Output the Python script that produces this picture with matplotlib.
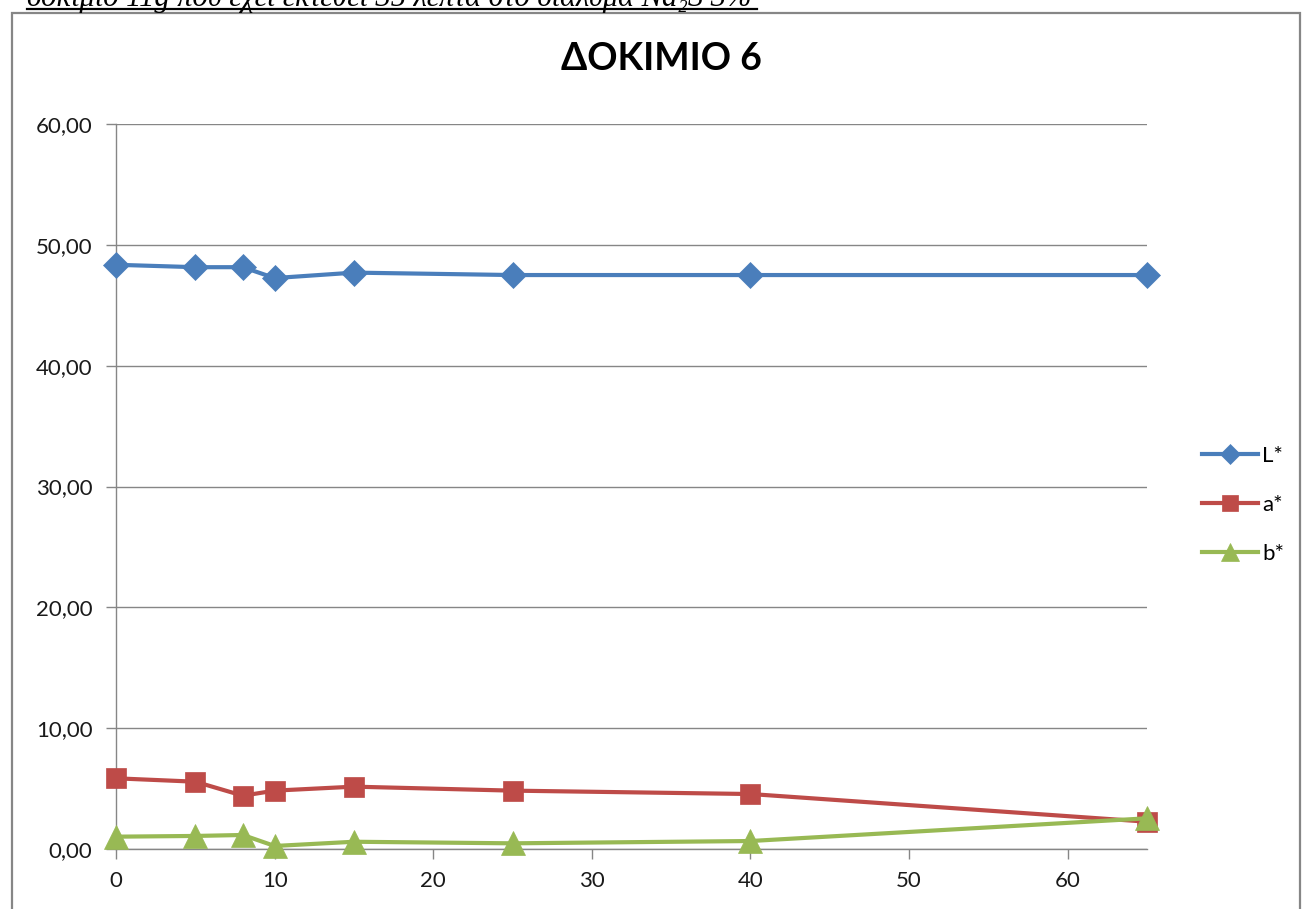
import matplotlib
matplotlib.use("Agg")
import matplotlib.pyplot as plt
from matplotlib.patches import Rectangle
from matplotlib.lines import Line2D

# Immersion time (minutes) and CIELAB colour coordinates
time_min = [0, 5, 8, 10, 15, 25, 40, 65]
L_star = [48.35, 48.15, 48.15, 47.25, 47.70, 47.50, 47.50, 47.50]
a_star = [5.85, 5.57, 4.41, 4.83, 5.16, 4.83, 4.55, 2.26]
b_star = [1.02, 1.08, 1.16, 0.25, 0.60, 0.47, 0.66, 2.54]

series_names = ["L*", "a*", "b*"]
x_ticks = [0, 10, 20, 30, 40, 50, 60]
y_ticks = [0, 10, 20, 30, 40, 50, 60]
title = "ΔΟΚΙΜΙΟ 6"
caption = "δοκίμιο 11g που έχει εκτεθεί 35 λεπτά στο διάλυμα Na\u2082S 3%"

W, H = 1305, 909
fig = plt.figure(figsize=(W / 100, H / 100), dpi=100)
fig.patch.set_facecolor("white")

def fx(px):
    return px / W

def fy(py):
    return 1 - py / H

# Caption line above the chart (partly clipped by the page top)
fig.text(fx(27), fy(6), caption, fontsize=22, family="Liberation Serif",
         style="italic", ha="left", va="baseline", color="black")
fig.add_artist(Line2D([fx(27), fx(757)], [fy(9), fy(9)], color="black", lw=1.6,
                      transform=fig.transFigure))

# Chart frame
fig.add_artist(Rectangle((fx(12), fy(925)), fx(1300) - fx(12), fy(13) - fy(925),
                         transform=fig.transFigure, fill=False,
                         edgecolor="#868686", lw=1.6))

left, right, top, bottom = 116, 1147, 124, 849
ax = fig.add_axes([fx(left), fy(bottom), fx(right) - fx(left), fy(top) - fy(bottom)])

colors = ["#4A7EBB", "#BE4B48", "#98B954"]
markers = ["D", "s", "^"]
msizes = [13, 15, 17]
for vals, name, c, m, ms in zip([L_star, a_star, b_star], series_names, colors, markers, msizes):
    ax.plot(time_min, vals, color=c, lw=3, marker=m, markersize=ms,
            markeredgecolor=c, markeredgewidth=0.5, label=name, clip_on=False, zorder=3)

ax.set_xlim(0, 65)
ax.set_ylim(0, 60)
ax.set_xticks(x_ticks)
ax.set_yticks(y_ticks)
ax.set_yticklabels([f"{v:.2f}".replace(".", ",") for v in y_ticks])
ax.grid(axis="y", color="#868686", lw=1)
ax.set_axisbelow(True)
for s in ["top", "right"]:
    ax.spines[s].set_visible(False)
for s in ["left", "bottom"]:
    ax.spines[s].set_color("#868686")
    ax.spines[s].set_linewidth(1)
ax.tick_params(axis="both", direction="out", length=7, width=1, color="#868686",
               labelsize=16, labelcolor="#1a1a1a")
ax.tick_params(axis="x", pad=9)
ax.tick_params(axis="y", pad=10)
for lab in ax.get_xticklabels() + ax.get_yticklabels():
    lab.set_family("Lato")

fig.text(fx(661), fy(59), title, fontsize=27, fontweight="bold", family="Lato",
         ha="center", va="center", color="black")

leg = ax.legend(loc="center left", bbox_to_anchor=(fx(1202), fy(505)),
                bbox_transform=fig.transFigure, frameon=False,
                prop={"family": "Lato", "size": 16}, handlelength=2.5,
                handletextpad=0.2, labelspacing=1.3, markerscale=0.75,
                borderpad=0, borderaxespad=0)

fig.savefig("out.png", dpi=100)
